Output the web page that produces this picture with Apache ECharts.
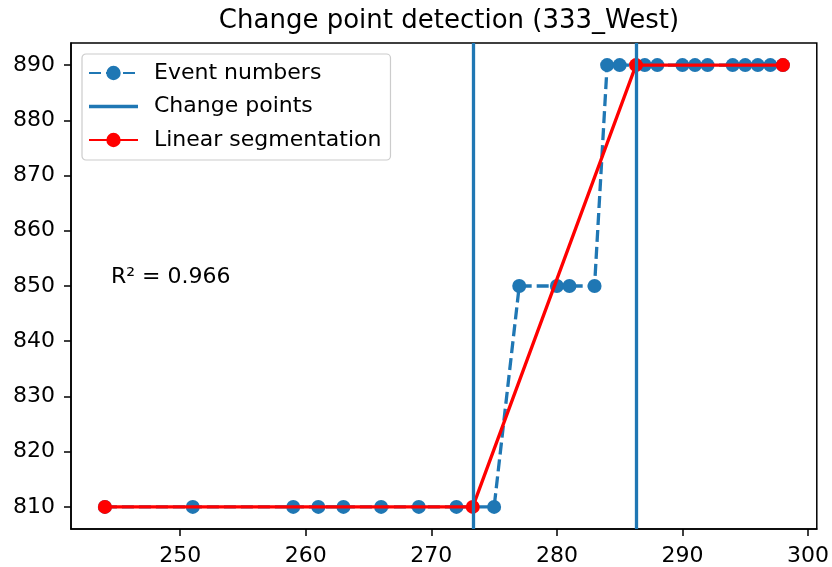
<!DOCTYPE html>
<html>
<head>
<meta charset="utf-8">
<script src="https://cdn.jsdelivr.net/npm/echarts@6/dist/echarts.min.js"></script>
<style>
  html, body { margin: 0; padding: 0; background: #fff; }
  #chart { width: 832px; height: 567px; }
</style>
</head>
<body>
<div id="chart"></div>
<script>
// Observed event numbers per index
const eventX = [244, 251, 259, 261, 263, 266, 269, 272, 275, 277, 280, 281, 283, 284, 285, 287, 288, 290, 291, 292, 294, 295, 296, 297, 298];
const eventY = [810, 810, 810, 810, 810, 810, 810, 810, 810, 850, 850, 850, 850, 890, 890, 890, 890, 890, 890, 890, 890, 890, 890, 890, 890];

// Detected change points
const changePoints = [273.3, 286.3];

// Piecewise linear fit through the change points
const segX = [244, 273.3, 286.3, 298];
const segY = [810, 810, 890, 890];

const xTicks = [250, 260, 270, 280, 290, 300];
const yTicks = [810, 820, 830, 840, 850, 860, 870, 880, 890];
const rSquared = 0.966;

const BLUE = '#1f77b4';
const RED = '#ff0000';
const FONT = 'DejaVu Sans';

const zip = (xs, ys) => xs.map((x, i) => [x, ys[i]]);

const chart = echarts.init(document.getElementById('chart'), null, { renderer: 'canvas' });

chart.setOption({
  animation: false,
  backgroundColor: '#ffffff',
  textStyle: { fontFamily: FONT },
  title: {
    text: 'Change point detection (333_West)',
    left: 444, textAlign: 'center',
    top: 3,
    textStyle: { fontFamily: FONT, fontSize: 26, fontWeight: 'normal', color: '#000' }
  },
  grid: {
    left: 71, right: 14, top: 43, bottom: 38,
    show: true, borderColor: '#000', borderWidth: 1.5, backgroundColor: 'transparent'
  },
  legend: {
    orient: 'vertical',
    left: 82, top: 54,
    symbolKeepAspect: true,
    data: [
      { name: 'Event numbers' },
      // plain line swatch for the vertical markers
      { name: 'Change points', icon: 'path://M0,0H490V33H0Z' },
      { name: 'Linear segmentation' }
    ],
    itemWidth: 49, itemHeight: 18, itemGap: 11.5,
    padding: [8, 9, 9, 6],
    backgroundColor: 'rgba(255,255,255,0.8)',
    borderColor: '#cccccc', borderWidth: 1.2, borderRadius: 4,
    textStyle: { fontFamily: FONT, fontSize: 22, color: '#000', padding: [0, 0, 0, 11], lineHeight: 22 }
  },
  xAxis: {
    type: 'value', min: 241.3, max: 300.7,
    axisLine: { show: true, lineStyle: { color: '#000', width: 1.5 } },
    axisTick: { show: true, length: 7, lineStyle: { color: '#000', width: 1.5 }, customValues: xTicks },
    axisLabel: { fontFamily: FONT, fontSize: 22, color: '#000', margin: 16, customValues: xTicks },
    splitLine: { show: false }
  },
  yAxis: {
    type: 'value', min: 806, max: 894,
    axisLine: { show: true, lineStyle: { color: '#000', width: 1.5 } },
    axisTick: { show: true, length: 7, lineStyle: { color: '#000', width: 1.5 }, customValues: yTicks },
    axisLabel: { fontFamily: FONT, fontSize: 22, color: '#000', margin: 16, customValues: yTicks },
    splitLine: { show: false }
  },
  graphic: [{
    type: 'text',
    left: 111, top: 266,
    style: { text: 'R² = ' + rSquared.toFixed(3), font: '22px "DejaVu Sans"', fill: '#000' }
  }],
  series: [
    {
      name: 'Event numbers',
      type: 'line',
      data: zip(eventX, eventY),
      symbol: 'circle', symbolSize: 14,
      itemStyle: { color: BLUE },
      lineStyle: { color: BLUE, width: 3.3, type: [12, 5] },
      z: 2
    },
    {
      name: 'Change points',
      type: 'line',
      data: [],
      symbol: 'none',
      itemStyle: { color: BLUE },
      lineStyle: { color: BLUE, width: 3.3 },
      markLine: {
        silent: true, symbol: 'none',
        label: { show: false },
        lineStyle: { color: BLUE, width: 3.3, type: 'solid' },
        data: changePoints.map(v => ({ xAxis: v }))
      },
      z: 3
    },
    {
      name: 'Linear segmentation',
      type: 'line',
      data: zip(segX, segY),
      symbol: 'circle', symbolSize: 14,
      itemStyle: { color: RED },
      lineStyle: { color: RED, width: 3.3 },
      z: 4
    }
  ]
});
</script>
</body>
</html>
